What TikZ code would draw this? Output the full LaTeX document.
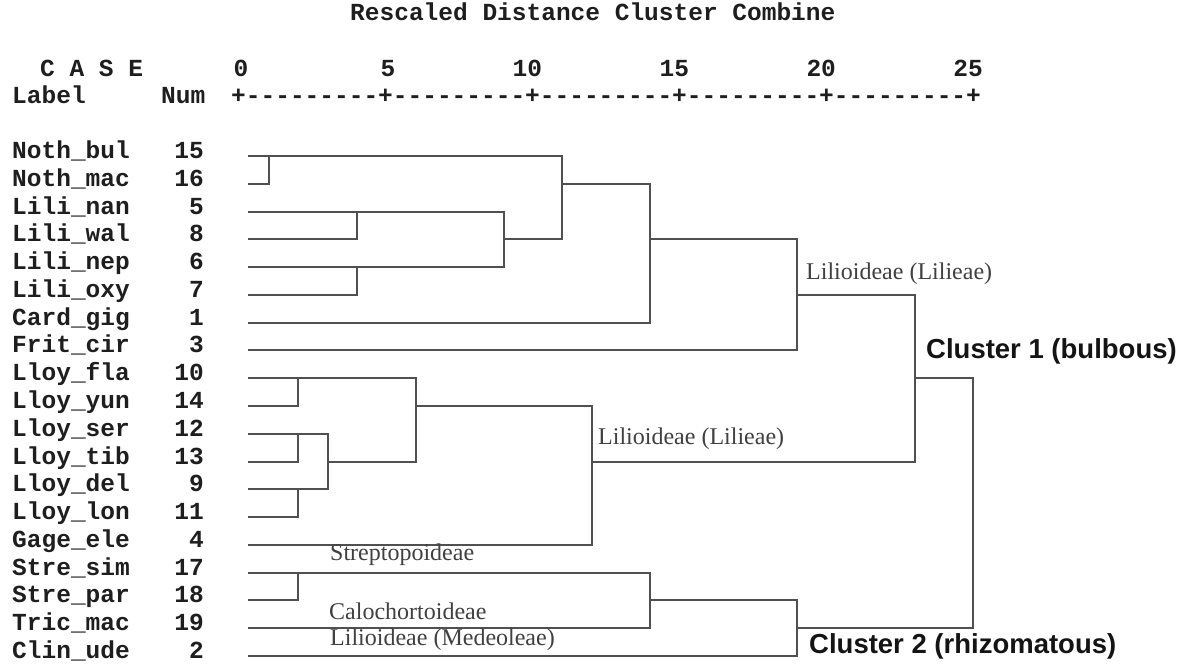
\documentclass[tikz,border=0pt]{standalone}
\usepackage{fontspec}
\setmainfont{Liberation Serif}
\setsansfont{Liberation Sans}
\setmonofont[Ligatures=TeXOff]{Liberation Mono}
\definecolor{treegray}{HTML}{505050}
\definecolor{inkgray}{HTML}{1E1E1E}
\definecolor{taxgray}{HTML}{404040}

\begin{document}
\begin{tikzpicture}[
    x=1pt, y=-1pt,
    spss/.style={font=\ttfamily\bfseries\fontsize{24.5}{26}\selectfont,
      text=inkgray, inner sep=0pt},
    case/.style={spss, anchor=mid west},
    num/.style={spss, anchor=mid east},
    taxon/.style={font=\rmfamily\fontsize{24}{26}\selectfont,
      text=taxgray, anchor=mid west, inner sep=0pt},
    cluster/.style={font=\sffamily\bfseries\fontsize{27.5}{29}\selectfont,
      text=black!92, anchor=mid west, inner sep=0pt},
    branch/.style={draw=treegray, line width=2pt},
  ]
  \useasboundingbox (0,0) rectangle (1187,668);

  % ============ Header ============
  \node[case] (title)   at (350,18)  {Rescaled Distance Cluster Combine};
  \node[case] (casehd)  at (40,74)   {C A S E};
  \node[case] (labelhd) at (12,101)  {Label};
  \node[case] (numhd)   at (161,101) {Num};
  \node[case] (axis)    at (231,101)
    {+---------+---------+---------+---------+---------+};
  \foreach \d [count=\k from 0] in {0,5,10,15,20,25}
    \node[num] (tick\d) at ({248.5+146.9*\k},74) {\d};

  % ============ Cases ============
  \foreach \lab/\num [count=\i from 0] in {Noth\_bul/15, Noth\_mac/16,
      Lili\_nan/5, Lili\_wal/8, Lili\_nep/6, Lili\_oxy/7, Card\_gig/1,
      Frit\_cir/3, Lloy\_fla/10, Lloy\_yun/14, Lloy\_ser/12, Lloy\_tib/13,
      Lloy\_del/9, Lloy\_lon/11, Gage\_ele/4, Stre\_sim/17, Stre\_par/18,
      Tric\_mac/19, Clin\_ude/2} {
    \pgfmathsetmacro\rowy{156+round(27.78*\i)}
    \node[case] (lab\num) at (12,\rowy)  {\lab};
    \node[num]  (num\num) at (204,\rowy) {\num};
    \coordinate (c\num) at (248,\rowy);
  }

  % ============ Merge points (x = rescaled distance) ============
  \begin{scope}[x=29.35pt, xshift=239.5pt]
    \coordinate (noth)    at (1,0 |- c15);
    \coordinate (lilA)    at (4,0 |- c5);
    \coordinate (lilB)    at (4,0 |- c6);
    \coordinate (lili)    at (9,0 |- c8);
    \coordinate (nl)      at (11,0 |- c16);
    \coordinate (nlc)     at (14,0 |- c8);
    \coordinate (lilieae) at (19,0 |- c7);
    \coordinate (lloyA)   at (2,0 |- c10);
    \coordinate (lloyB)   at (2,0 |- c12);
    \coordinate (lloyC)   at (2,0 |- c9);
    \coordinate (lloyBC)  at (3,0 |- c13);
    \coordinate (lloy)    at (6,0 |- c14);
    \coordinate (lloyg)   at (12,0 |- c13);
    \coordinate (clus1)   at (23,0 |- c10);
    \coordinate (stre)    at (2,0 |- c17);
    \coordinate (stret)   at (14,0 |- c18);
    \coordinate (clus2)   at (19,0 |- c19);
    \coordinate (root)    at (25,0 |- c10);
  \end{scope}

  % ============ Branches ============
  % Notholirion + Lilium
  \draw[branch] (c15) -| (c16 -| noth) -- (c16);
  \draw[branch] (c5) -| (c8 -| lilA) -- (c8);
  \draw[branch] (c6) -| (c7 -| lilB) -- (c7);
  \draw[branch] (lilA) -| (lilB -| lili) -- (lilB);
  \draw[branch] (noth) -| (lili -| nl) -- (lili);
  \draw[branch] (nl) -| (c1 -| nlc) -- (c1);
  \draw[branch] (nlc) -| (c3 -| lilieae) -- (c3);

  % Lloydia + Gagea
  \draw[branch] (c10) -| (c14 -| lloyA) -- (c14);
  \draw[branch] (c12) -| (c13 -| lloyB) -- (c13);
  \draw[branch] (c9) -| (c11 -| lloyC) -- (c11);
  \draw[branch] (lloyB) -| (lloyC -| lloyBC) -- (lloyC);
  \draw[branch] (lloyA) -| (lloyBC -| lloy) -- (lloyBC);
  \draw[branch] (lloy) -| (c4 -| lloyg) -- (c4);
  \draw[branch] (lilieae) -| (lloyg -| clus1) -- (lloyg);

  % rhizomatous group
  \draw[branch] (c17) -| (c18 -| stre) -- (c18);
  \draw[branch] (stre) -| (c19 -| stret) -- (c19);
  \draw[branch] (stret) -| (c2 -| clus2) -- (c2);

  % root
  \draw[branch] (clus1) -| (clus2 -| root) -- (clus2);

  % ============ Group labels ============
  \node[taxon] (lilieaeA) at (806,277) {Lilioideae (Lilieae)};
  \node[taxon] (lilieaeB) at (598,442) {Lilioideae (Lilieae)};
  \node[taxon] (strepto)  at (330,558) {Streptopoideae};
  \node[taxon] (calo)     at (329,617) {Calochortoideae};
  \node[taxon] (medeo)    at (330,643) {Lilioideae (Medeoleae)};
  \node[cluster] (bulb)   at (926,356) {Cluster 1 (bulbous)};
  \node[cluster] (rhizo)  at (809,651) {Cluster 2 (rhizomatous)};

\end{tikzpicture}
\end{document}
